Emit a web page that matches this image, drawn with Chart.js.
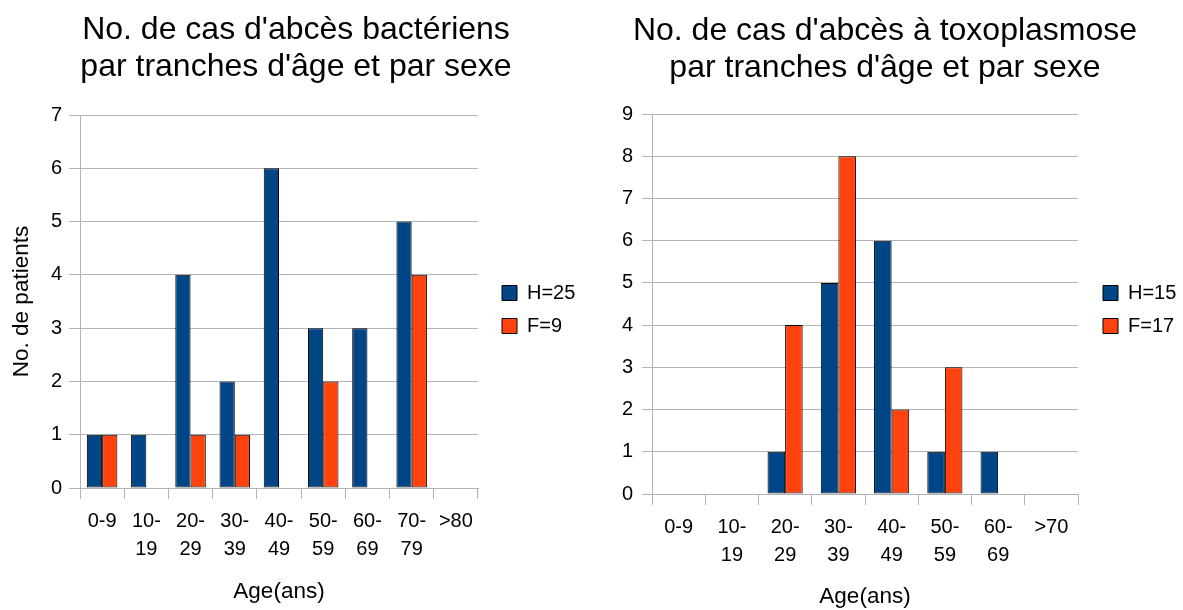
<!DOCTYPE html>
<html>
<head>
<meta charset="utf-8">
<script src="https://cdn.jsdelivr.net/npm/chart.js@4.4.1/dist/chart.umd.min.js"></script>
<style>
  html, body { margin: 0; padding: 0; background: #fff; width: 1183px; height: 610px; overflow: hidden; }
  canvas { position: absolute; top: 0; }
  #bact { left: 0; }
  #toxo { left: 592px; }
</style>
</head>
<body>
<canvas id="bact" width="592" height="610"></canvas>
<canvas id="toxo" width="591" height="610"></canvas>
<script>
// Bacterial abscesses by age band and sex
const bactTitle = ["No. de cas d'abcès bactériens", "par tranches d'âge et par sexe"];
const bactCategories = ['0-9', ['10-', '19'], ['20-', '29'], ['30-', '39'], ['40-', '49'], ['50-', '59'], ['60-', '69'], ['70-', '79'], '>80'];
const bactMen = [1, 1, 4, 2, 6, 3, 3, 5, 0];
const bactWomen = [1, 0, 1, 1, 0, 2, 0, 4, 0];
const bactLegend = ['H=25', 'F=9'];
const bactYMax = 7;

// Toxoplasmosis abscesses by age band and sex
const toxoTitle = ["No. de cas d'abcès à toxoplasmose", "par tranches d'âge et par sexe"];
const toxoCategories = ['0-9', ['10-', '19'], ['20-', '29'], ['30-', '39'], ['40-', '49'], ['50-', '59'], ['60-', '69'], '>70'];
const toxoMen = [0, 0, 1, 5, 6, 1, 1, 0];
const toxoWomen = [0, 0, 4, 8, 2, 3, 0, 0];
const toxoLegend = ['H=15', 'F=17'];
const toxoYMax = 9;

const yAxisTitle = 'No. de patients';
const xAxisTitle = 'Age(ans)';

const FAMILY = '"Liberation Sans", Arial, sans-serif';
const BLUE = '#004586';
const ORANGE = '#ff420e';
const GRID = '#b3b3b3';

Chart.defaults.color = '#000';
Chart.defaults.font.family = FAMILY;

// Moves the legend sideways after layout so it sits a little away from the plot
const legendGap = {
  id: 'legendGap',
  afterLayout(chart, args, opts) {
    const lg = chart.legend;
    if (lg && opts.gap) { lg.left += opts.gap; lg.right += opts.gap; }
  }
};

function legendWidth(texts, size, box, pad) {
  const ctx = document.createElement('canvas').getContext('2d');
  ctx.font = `normal normal ${size}px ${FAMILY}`;
  const w = Math.max(...texts.map(t => ctx.measureText(t).width));
  return pad + box + size / 2 + w + 10;
}

function makeChart(id, d, g) {
  const canvas = document.getElementById(id);
  const W = canvas.width, H = canvas.height;
  const LEG_FONT = 20, LEG_BOX = 15, LEG_PAD = 13;
  const L = legendWidth(d.legend, LEG_FONT, LEG_BOX, LEG_PAD);
  const padTop = 9;
  const pr = W - g.plotRight - L;
  const pl = 2 * g.titleCenter - W + pr;
  const yW = g.plotLeft - pl;
  const titleSize = 32, titleLH = 37;
  const titlePadTop = g.titleMid - padTop - titleLH / 2;
  const titlePadBottom = g.plotTop - padTop - titlePadTop - 2 * titleLH;
  const yTitleSize = 22.5, yTitleLH = 1.2;

  return new Chart(canvas, {
    type: 'bar',
    data: {
      labels: d.categories,
      datasets: [
        { label: d.legend[0], data: d.men, backgroundColor: BLUE },
        { label: d.legend[1], data: d.women, backgroundColor: ORANGE }
      ]
    },
    plugins: [legendGap],
    options: {
      responsive: false,
      animation: false,
      layout: { padding: { top: padTop, left: pl, right: pr, bottom: 0 } },
      datasets: {
        bar: {
          borderColor: '#000', borderWidth: 1, borderSkipped: false,
          categoryPercentage: g.catPct, barPercentage: 1
        }
      },
      plugins: {
        legendGap: { gap: g.legendBoxX - g.plotRight - LEG_PAD },
        tooltip: { enabled: false },
        title: {
          display: true, text: d.title, color: '#000',
          font: { size: titleSize, weight: 'normal', lineHeight: titleLH / titleSize },
          padding: { top: titlePadTop, bottom: titlePadBottom }
        },
        legend: {
          position: 'right', align: 'center',
          labels: {
            boxWidth: LEG_BOX, boxHeight: LEG_BOX, padding: LEG_PAD,
            color: '#000', font: { size: LEG_FONT }
          }
        }
      },
      scales: {
        x: {
          grid: { display: true, drawOnChartArea: false, drawTicks: true, tickLength: 11, color: GRID, offset: true },
          border: { display: true, color: GRID },
          ticks: { color: '#000', padding: 8.5, font: { size: 20, lineHeight: 1.4 }, maxRotation: 0, autoSkip: false },
          title: {
            display: true, text: xAxisTitle, color: '#000',
            font: { size: 22.5, lineHeight: 1.2 },
            padding: { top: 0, bottom: g.xTitlePad }
          },
          afterFit(s) { s.height = H - g.plotBottom; }
        },
        y: {
          min: 0, max: d.yMax,
          grid: { color: GRID, tickLength: g.yTick, drawTicks: true },
          border: { display: true, color: GRID },
          ticks: { stepSize: 1, color: '#000', padding: g.yTickPad, font: { size: 20 } },
          title: {
            display: g.yTitle, text: yAxisTitle, color: '#000',
            font: { size: yTitleSize, lineHeight: yTitleLH },
            padding: { top: g.yTitleX - pl - yTitleSize * yTitleLH / 2, bottom: 0 }
          },
          afterFit(s) { s.width = yW; }
        }
      }
    }
  });
}

makeChart('bact',
  { title: bactTitle, categories: bactCategories, men: bactMen, women: bactWomen, legend: bactLegend, yMax: bactYMax },
  { plotLeft: 80, plotRight: 478, plotTop: 115, plotBottom: 488, titleCenter: 296, titleMid: 30.5,
    legendBoxX: 502, catPct: 0.69, xTitlePad: 5, yTick: 11, yTickPad: 7, yTitle: true, yTitleX: 22 });

makeChart('toxo',
  { title: toxoTitle, categories: toxoCategories, men: toxoMen, women: toxoWomen, legend: toxoLegend, yMax: toxoYMax },
  { plotLeft: 60, plotRight: 486, plotTop: 114, plotBottom: 494, titleCenter: 293, titleMid: 31.5,
    legendBoxX: 511, catPct: 0.66, xTitlePad: 0, yTick: 10, yTickPad: 9, yTitle: false, yTitleX: 10 });
</script>
</body>
</html>
